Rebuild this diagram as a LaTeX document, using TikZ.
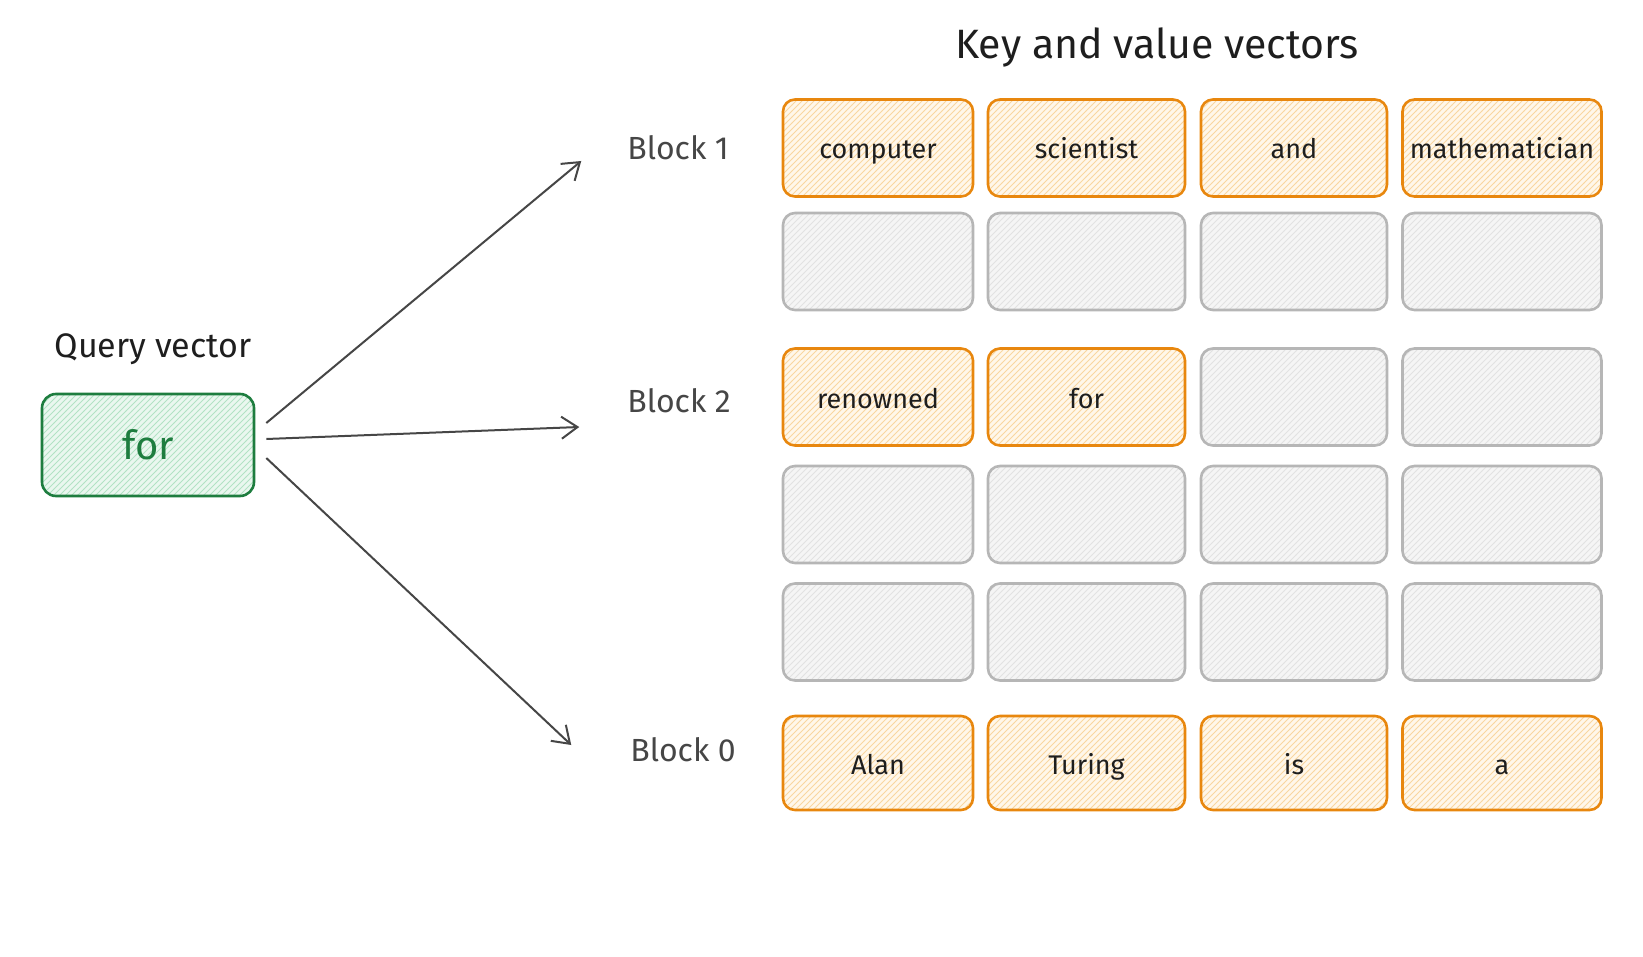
\documentclass[tikz,border=0pt]{standalone}
\usepackage{fontspec}
\setmainfont{Fira Sans}
\usetikzlibrary{calc}
\usetikzlibrary{patterns}
\usetikzlibrary{arrows.meta}

\definecolor{keyorange}{RGB}{232,135,14}
\definecolor{keyfill}{RGB}{255,247,234}
\definecolor{keyhatch}{RGB}{249,214,160}
\definecolor{emptystroke}{RGB}{182,182,182}
\definecolor{emptyfill}{RGB}{245,245,245}
\definecolor{emptyhatch}{RGB}{226,226,226}
\definecolor{querygreen}{RGB}{30,125,63}
\definecolor{queryfill}{RGB}{234,247,239}
\definecolor{queryhatch}{RGB}{178,226,196}
\definecolor{inkgrey}{RGB}{70,70,70}
\definecolor{ink}{RGB}{30,30,30}

\begin{document}
\begin{tikzpicture}[x=0.5pt,y=-0.5pt,
  cell/.style={rounded corners=6pt, line width=1.3pt, minimum height=48.5pt,
    inner sep=0pt, text=ink, text height=12pt, text depth=1pt,
    font=\fontsize{13.5}{16}\selectfont},
  keybox/.style={cell, draw=keyorange, preaction={fill=keyfill},
    pattern=north east lines, pattern color=keyhatch},
  emptybox/.style={cell, draw=emptystroke, preaction={fill=emptyfill},
    pattern=north east lines, pattern color=emptyhatch},
  querybox/.style={rounded corners=7pt, line width=1.3pt, draw=querygreen,
    preaction={fill=queryfill}, pattern=north east lines, pattern color=queryhatch,
    minimum width=106pt, minimum height=51pt, inner sep=0pt, text=querygreen,
    font=\fontsize{20}{22}\selectfont},
  blocklabel/.style={text=inkgrey, font=\fontsize{16}{18}\selectfont},
  arr/.style={draw=inkgrey, line width=1pt, -{Straight Barb[length=8pt,width=11pt]}},
  w1/.style={minimum width=95pt},
  w2/.style={minimum width=98.5pt},
  w3/.style={minimum width=93pt},
  w4/.style={minimum width=99.5pt}]

  \useasboundingbox (0,0) rectangle (1643,957);

  % titles
  \node[text=ink, font=\fontsize{20.5}{22}\selectfont] (title) at (1157,47) {Key and value vectors};
  \node[text=ink, font=\fontsize{17}{19}\selectfont] (qtitle) at (153,349) {Query vector};

  % query
  \node[querybox] (query) at (148,445) {for};

  % block labels
  \node[blocklabel] (blk1) at (678,148) {Block 1};
  \node[blocklabel] (blk2) at (679,401) {Block 2};
  \node[blocklabel] (blk0) at (683,750) {Block 0};

  % block 1
  \node[keybox,w1] (r1c1) at (878,148) {computer};
  \node[keybox,w2] (r1c2) at (1086.5,148) {scientist};
  \node[keybox,w3] (r1c3) at (1294,148) {and};
  \node[keybox,w4] (r1c4) at (1502,148) {mathematician};
  \node[emptybox,w1] (r2c1) at (878,261.5) {};
  \node[emptybox,w2] (r2c2) at (1086.5,261.5) {};
  \node[emptybox,w3] (r2c3) at (1294,261.5) {};
  \node[emptybox,w4] (r2c4) at (1502,261.5) {};

  % block 2
  \node[keybox,w1] (r3c1) at (878,397) {renowned};
  \node[keybox,w2] (r3c2) at (1086.5,397) {for};
  \node[emptybox,w3] (r3c3) at (1294,397) {};
  \node[emptybox,w4] (r3c4) at (1502,397) {};
  \node[emptybox,w1] (r4c1) at (878,514.5) {};
  \node[emptybox,w2] (r4c2) at (1086.5,514.5) {};
  \node[emptybox,w3] (r4c3) at (1294,514.5) {};
  \node[emptybox,w4] (r4c4) at (1502,514.5) {};
  \node[emptybox,w1] (r5c1) at (878,632) {};
  \node[emptybox,w2] (r5c2) at (1086.5,632) {};
  \node[emptybox,w3] (r5c3) at (1294,632) {};
  \node[emptybox,w4] (r5c4) at (1502,632) {};

  % block 0
  \node[keybox,w1,minimum height=47pt] (r6c1) at (878,763) {Alan};
  \node[keybox,w2,minimum height=47pt] (r6c2) at (1086.5,763) {Turing};
  \node[keybox,w3,minimum height=47pt] (r6c3) at (1294,763) {is};
  \node[keybox,w4,minimum height=47pt] (r6c4) at (1502,763) {a};

  % arrows
  \coordinate (tip1) at ($ (blk1.west)+(-39,13) $);
  \coordinate (tip2) at ($ (blk2.west)+(-41,26) $);
  \coordinate (tip0) at ($ (blk0.west)+(-52,-5) $);

  \draw[arr] ($ (query.east)+(11,-22) $) -- (tip1);
  \draw[arr] ($ (query.east)+(11,-6) $) -- (tip2);
  \draw[arr] ($ (query.east)+(11,13) $) -- (tip0);

\end{tikzpicture}
\end{document}
